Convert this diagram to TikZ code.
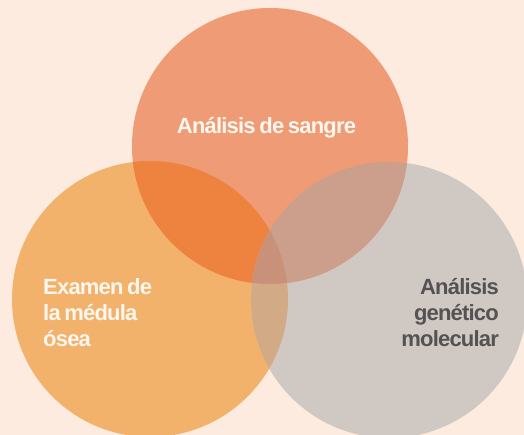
\documentclass[tikz,border=0pt]{standalone}
\usepackage{fontspec}
\setmainfont{Liberation Sans}[LetterSpace=-3.7, WordSpace=0.7]
\definecolor{bgc}{HTML}{FDEBDF}
\definecolor{topc}{HTML}{EF9B76}
\definecolor{leftc}{HTML}{F2B26C}
\definecolor{rightc}{HTML}{D0C8C2}
\definecolor{tlc}{HTML}{EE823F}
\definecolor{trc}{HTML}{CC9F8C}
\definecolor{lrc}{HTML}{D3AA86}
\definecolor{allc}{HTML}{C9907A}
\definecolor{lighttext}{HTML}{FFF6EE}
\definecolor{darktext}{HTML}{545252}
\tikzset{
  lbl/.style={font=\fontsize{22}{26}\selectfont\bfseries, inner sep=0pt, align=left},
}
\begin{document}
\begin{tikzpicture}[x=1pt,y=1pt]
\fill[bgc] (0,0) rectangle (524,435);
\useasboundingbox (0,0) rectangle (524,435);
\coordinate (T) at (270,289);
\coordinate (L) at (150,136);
\coordinate (R) at (389,135);
\def\rr{138}
\fill[leftc] (L) circle (\rr);
\fill[rightc] (R) circle (\rr);
\fill[topc] (T) circle (\rr);
\begin{scope}
  \clip (T) circle (\rr);
  \fill[tlc] (L) circle (\rr);
  \fill[trc] (R) circle (\rr);
\end{scope}
\begin{scope}
  \clip (L) circle (\rr);
  \fill[lrc] (R) circle (\rr);
  \clip (R) circle (\rr);
  \fill[allc] (T) circle (\rr);
\end{scope}
\node[lbl, text=lighttext, anchor=base] (t1) at (266.5,301) {Análisis de sangre};
\node[lbl, text=lighttext, anchor=base west, align=left] (t2) at (43,88) {Examen de\\la médula\\ósea};
\node[lbl, text=darktext, anchor=base east, align=right] (t3) at (499,88) {Análisis\\genético\\molecular};
\end{tikzpicture}
\end{document}
